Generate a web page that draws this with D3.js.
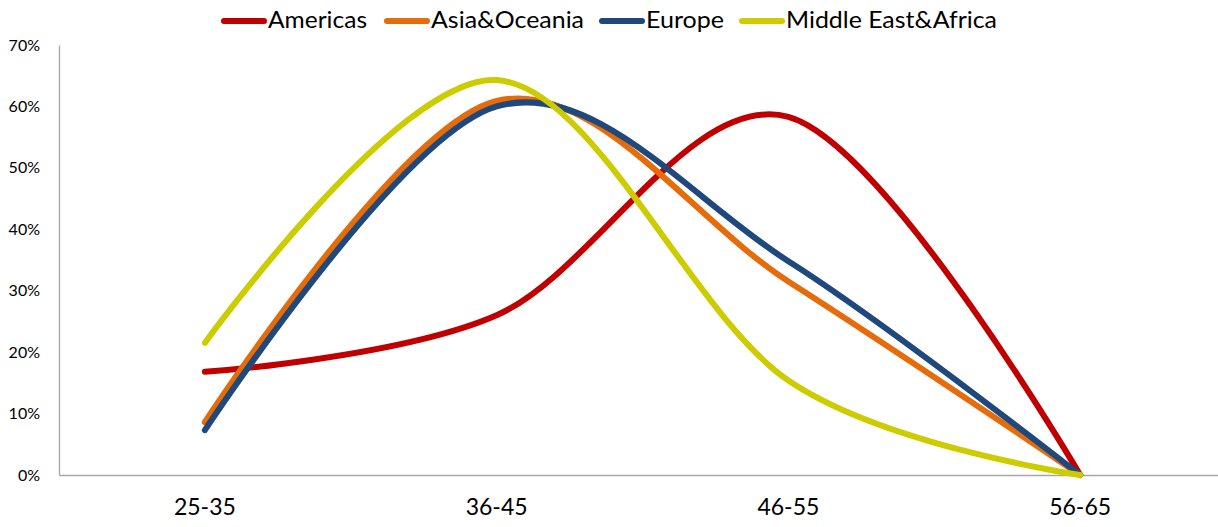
<!DOCTYPE html>
<html>
<head>
<meta charset="utf-8">
<script src="https://cdn.jsdelivr.net/npm/d3@7/dist/d3.min.js"></script>
<style>
  html, body { margin: 0; padding: 0; background: #fff; }
  svg { display: block; font-family: Lato, "Open Sans", sans-serif; }
</style>
</head>
<body>
<svg id="chart" width="1218" height="527"></svg>
<script>
// Age groups along the x axis
const ageGroups = ["25-35", "36-45", "46-55", "56-65"];

// Share of respondents per age group, by region (%)
const americas = [16.8, 26.0, 58.3, 0];
const asiaOceania = [8.6, 60.9, 31.5, 0];
const europe = [7.3, 60.0, 34.8, 0];
const middleEastAfrica = [21.5, 64.3, 15.4, 0];

const yTicks = [0, 10, 20, 30, 40, 50, 60, 70];

const seriesNames = ["Americas", "Asia&Oceania", "Europe", "Middle East&Africa"];
const seriesValues = [americas, asiaOceania, europe, middleEastAfrica];
const seriesColors = ["#C00000", "#E46C0A", "#1F497D", "#CCCC00"];

(function draw() {
  const svg = d3.select("#chart");

  const plotLeft = 59, plotRight = 1226, plotTop = 45, plotBottom = 475;

  const x = d3.scaleBand().domain(ageGroups).range([plotLeft, plotRight]);
  const y = d3.scaleLinear().domain([0, 70]).range([plotBottom, plotTop]);

  // Y axis
  const yAxis = svg.append("g")
    .attr("transform", `translate(${plotLeft},0)`)
    .call(d3.axisLeft(y).tickValues(yTicks).tickSize(0).tickPadding(19)
      .tickFormat(d => d + "%"));
  yAxis.select(".domain").attr("stroke", "#A6A6A6").attr("stroke-width", 1.3);
  yAxis.selectAll("text").attr("font-size", 16).attr("fill", "#000")
    .attr("font-family", "Lato, sans-serif");

  // X axis
  const xAxis = svg.append("g")
    .attr("transform", `translate(0,${plotBottom})`)
    .call(d3.axisBottom(x).tickSize(0).tickPadding(24));
  xAxis.select(".domain").attr("stroke", "#A6A6A6").attr("stroke-width", 1.3);
  xAxis.selectAll("text").attr("font-size", 23).attr("fill", "#000")
    .attr("font-family", "Lato, sans-serif");

  // Smoothed series lines
  const line = d3.line()
    .x((d, i) => x(ageGroups[i]) + x.bandwidth() / 2)
    .y(d => y(d))
    .curve(d3.curveCardinal.tension(0));

  seriesValues.forEach((vals, k) => {
    svg.append("path")
      .datum(vals)
      .attr("d", line)
      .attr("fill", "none")
      .attr("stroke", seriesColors[k])
      .attr("stroke-width", 6)
      .attr("stroke-linecap", "round")
      .attr("stroke-linejoin", "round");
  });

  // Legend: swatch start and label width for each entry
  const legendX = [224, 387, 602, 742];
  const legendTextW = [99, 153, 78, 211];
  const legend = svg.append("g");
  seriesNames.forEach((name, k) => {
    const g = legend.append("g").attr("transform", `translate(${legendX[k]},21)`);
    g.append("line")
      .attr("x1", 0).attr("x2", 40).attr("y1", 0).attr("y2", 0)
      .attr("stroke", seriesColors[k]).attr("stroke-width", 6)
      .attr("stroke-linecap", "round");
    g.append("text")
      .attr("x", 44).attr("y", 7)
      .attr("font-size", 24).attr("fill", "#000")
      .attr("textLength", legendTextW[k])
      .attr("lengthAdjust", "spacingAndGlyphs")
      .text(name);
  });
})();
</script>
</body>
</html>
